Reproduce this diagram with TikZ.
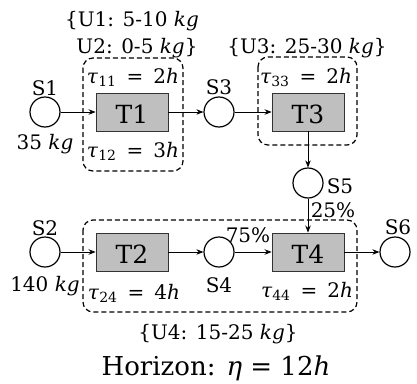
\documentclass[tikz,border=0pt]{standalone}
\usepackage{fontspec}
\setmainfont{DejaVu Serif}
\usetikzlibrary{arrows.meta}
\newcommand\tauexpr[2]{\textit{τ}\textsubscript{#1}\enspace=\enspace#2\textit{h}}
\newcommand\kg{\textit{kg}}
\begin{document}
\begin{tikzpicture}[x=1pt,y=-1pt,
  st/.style={circle,draw,line width=1.2pt,minimum size=30pt,inner sep=0pt},
  task/.style={rectangle,draw=black!80,fill=gray!50,line width=0.9pt,minimum width=72pt,minimum height=38pt,inner sep=0pt,text height=23pt,text depth=0pt,font=\fontsize{25}{29}\selectfont},
  lbl/.style={font=\fontsize{20}{27}\selectfont,inner sep=0pt,anchor=base},
  grp/.style={draw,line width=1.2pt,rounded corners=10pt,dash pattern=on 5pt off 3pt},
  flow/.style={-{Stealth[length=7pt,width=5.5pt]},line width=0.8pt}]
\useasboundingbox (0,0) rectangle (417,383);
% groups
\draw[grp] (83,58) rectangle (183,171);
\draw[grp] (258,57) rectangle (357,145);
\draw[grp] (83,220) rectangle (357,312);
% states
\node[st] (S1) at (45,112) {};
\node[st] (S3) at (219,112) {};
\node[st] (S5) at (308,183) {};
\node[st] (S2) at (45,252) {};
\node[st] (S4) at (219,252) {};
\node[st] (S6) at (395,252) {};
% tasks
\node[task] (T1) at (132,112) {T1};
\node[task] (T3) at (308,112) {T3};
\node[task] (T2) at (132,252) {T2};
\node[task] (T4) at (308,252) {T4};
% flows
\draw[flow] (S1) -- (T1);
\draw[flow] (T1) -- (S3);
\draw[flow] (S3) -- (T3);
\draw[flow] (T3) -- (S5);
\draw[flow] (S5) -- (T4);
\draw[flow] (S2) -- (T2);
\draw[flow] (T2) -- (S4);
\draw[flow] (S4) -- (T4);
\draw[flow] (T4) -- (S6);
% labels
\node[lbl] (S1l) at (45,95) {S1};
\node[lbl] (S1m) at (45,149) {35 \kg};
\node[lbl] (S3l) at (219,94) {S3};
\node[lbl] (S5l) at (340,193) {S5};
\node[lbl] (S2l) at (45,235) {S2};
\node[lbl] (S2m) at (45,291) {140 \kg};
\node[lbl] (S4l) at (219,292) {S4};
\node[lbl] (S6l) at (398,234) {S6};
\node[lbl] (p25) at (333,217) {25\%};
\node[lbl] (p75) at (248,242) {75\%};
\node[lbl] (U12a) at (132,26) {\{U1: 5-10 \kg};
\node[lbl] (U12b) at (137,53) {U2: 0-5 \kg\}};
\node[lbl] (U3) at (307,53) {\{U3: 25-30 \kg\}};
\node[lbl] (U4) at (218,339) {\{U4: 15-25 \kg\}};
\node[lbl] (t11) at (133,83) {\tauexpr{11}{2}};
\node[lbl] (t12) at (133,157) {\tauexpr{12}{3}};
\node[lbl] (t33) at (306,83) {\tauexpr{33}{2}};
\node[lbl] (t24) at (134,299) {\tauexpr{24}{4}};
\node[lbl] (t44) at (307,297) {\tauexpr{44}{2}};
\node[lbl,font=\fontsize{26}{30}\selectfont] (hor) at (216,375) {Horizon: \textit{η} = 12\textit{h}};
\end{tikzpicture}
\end{document}
